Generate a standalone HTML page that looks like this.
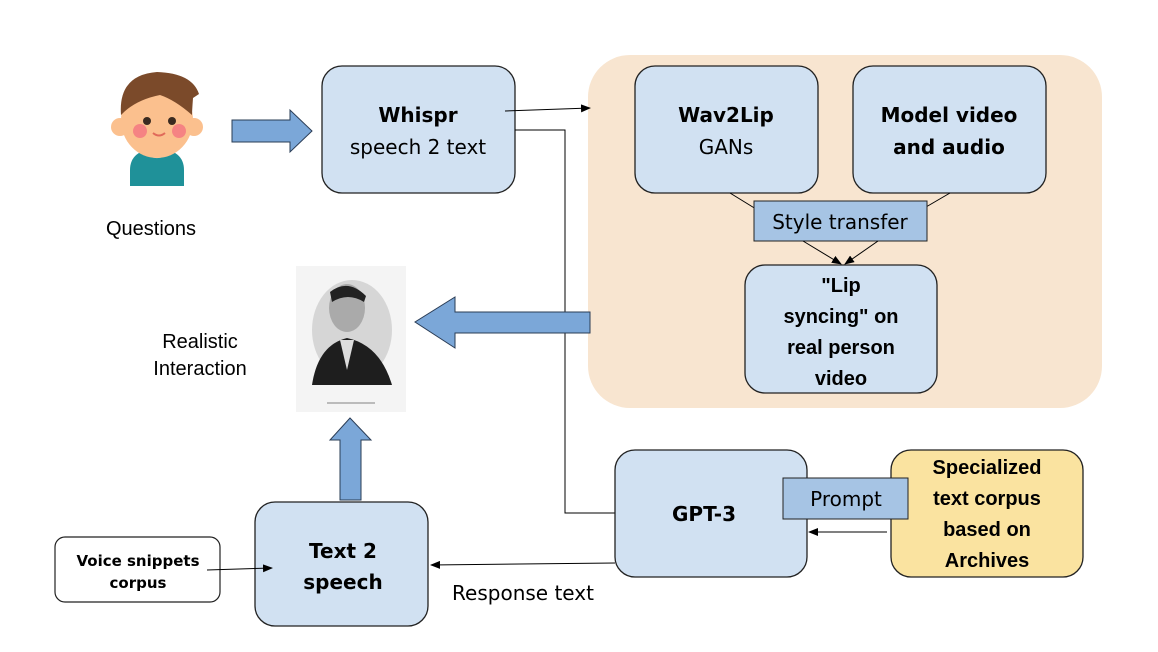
<!DOCTYPE html>
<html><head><meta charset="utf-8"><style>
html,body{margin:0;padding:0;background:#fff;}
svg{display:block;}
text{font-family:"Liberation Sans",sans-serif;}
.b{font-family:"DejaVu Sans","Liberation Sans",sans-serif;}
</style></head><body>
<svg width="1158" height="652" viewBox="0 0 1158 652" xmlns="http://www.w3.org/2000/svg">
<defs><marker id="ah" markerWidth="10" markerHeight="8" refX="9" refY="4" orient="auto" markerUnits="userSpaceOnUse"><path d="M0,0 L10,4 L0,8 z" fill="#000"/></marker></defs>
<rect width="1158" height="652" fill="#fff"/>
<rect x="588" y="55" width="514" height="353" rx="42" fill="#f8e5d0"/>
<g>
<path d="M130,170 Q130,150 157,148 Q184,150 184,170 L184,186 L130,186 Z" fill="#1f9199"/>
<path d="M143,150 Q157,162 171,150" fill="none" stroke="#fff" stroke-width="4"/>
<circle cx="120" cy="127" r="9" fill="#fbc08e"/><circle cx="194" cy="127" r="9" fill="#fbc08e"/>
<ellipse cx="157" cy="120" rx="36" ry="38" fill="#fbc08e"/>
<path d="M121,115 Q118,75 157,72 Q192,73 199,94 L193,98 Q192,112 192,115 Q175,100 160,95 Q135,100 121,115 Z" fill="#7b4a2a"/>
<circle cx="147" cy="121" r="4" fill="#3a2a20"/><circle cx="172" cy="121" r="4" fill="#3a2a20"/>
<circle cx="140" cy="131" r="7" fill="#f58383"/><circle cx="179" cy="131" r="7" fill="#f58383"/>
<path d="M153,133 Q159,138 165,133" fill="none" stroke="#e06a5a" stroke-width="2"/>
</g>
<text x="151" y="235" font-size="20" text-anchor="middle">Questions</text>
<path d="M232,120 L290,120 L290,110 L312,131 L290,152 L290,142 L232,142 Z" fill="#7ba7d8" stroke="#2a3c55" stroke-width="1"/>
<rect x="322" y="66" width="193" height="127" rx="20" fill="#d1e1f2" stroke="#222" stroke-width="1.3"/>
<text class="b" x="418" y="122" font-size="20" font-weight="bold" text-anchor="middle">Whispr</text>
<text class="b" x="418" y="154" font-size="20" text-anchor="middle">speech 2 text</text>
<line x1="505" y1="111" x2="590" y2="108" stroke="#000" stroke-width="1" marker-end="url(#ah)"/>
<polyline points="515,130 565,130 565,513 615,513" fill="none" stroke="#000" stroke-width="1"/>
<rect x="635" y="66" width="183" height="127" rx="20" fill="#d1e1f2" stroke="#222" stroke-width="1.3"/>
<text class="b" x="726" y="122" font-size="20" font-weight="bold" text-anchor="middle">Wav2Lip</text>
<text class="b" x="726" y="154" font-size="20" text-anchor="middle">GANs</text>
<rect x="853" y="66" width="193" height="127" rx="20" fill="#d1e1f2" stroke="#222" stroke-width="1.3"/>
<text class="b" x="949" y="122" font-size="20" font-weight="bold" text-anchor="middle">Model video</text>
<text class="b" x="949" y="154" font-size="20" font-weight="bold" text-anchor="middle">and audio</text>
<line x1="730" y1="193" x2="756" y2="209" stroke="#000"/>
<line x1="950" y1="193" x2="926" y2="207" stroke="#000"/>
<rect x="754" y="201" width="173" height="40" fill="#a6c4e4" stroke="#222" stroke-width="1"/>
<text class="b" x="840" y="229" font-size="20" text-anchor="middle">Style transfer</text>
<line x1="803" y1="241" x2="841" y2="264" stroke="#000" marker-end="url(#ah)"/>
<line x1="878" y1="241" x2="845" y2="264" stroke="#000" marker-end="url(#ah)"/>
<rect x="745" y="265" width="192" height="128" rx="20" fill="#d1e1f2" stroke="#222" stroke-width="1.3"/>
<g class="b" font-size="20" font-weight="bold" text-anchor="middle">
<text x="841" y="292">"Lip</text><text x="841" y="323">syncing" on</text><text x="841" y="354">real person</text><text x="841" y="385">video</text></g>
<path d="M590,312 L455,312 L455,297 L415,322 L455,348 L455,333 L590,333 Z" fill="#7ba7d8" stroke="#2a3c55" stroke-width="1"/>
<rect x="296" y="266" width="110" height="146" fill="#f4f4f4"/>
<ellipse cx="352" cy="330" rx="40" ry="50" fill="#d6d6d6"/>
<ellipse cx="347" cy="308" rx="18" ry="24" fill="#aaa"/>
<path d="M330,292 Q348,278 366,296 L364,302 Q348,292 332,302 Z" fill="#222"/>
<path d="M312,385 Q318,345 347,338 Q380,345 392,385 Z" fill="#1e1e1e"/>
<path d="M340,340 L347,370 L354,340 Z" fill="#ddd"/>
<rect x="327" y="402" width="48" height="2" fill="#bbb"/>
<text x="200" y="348" font-size="20" text-anchor="middle">Realistic</text>
<text x="200" y="375" font-size="20" text-anchor="middle">Interaction</text>
<path d="M340,500 L340,440 L330,440 L350,418 L371,440 L361,440 L361,500 Z" fill="#7ba7d8" stroke="#2a3c55" stroke-width="1"/>
<rect x="255" y="502" width="173" height="124" rx="20" fill="#d1e1f2" stroke="#222" stroke-width="1.3"/>
<text class="b" x="343" y="558" font-size="20" font-weight="bold" text-anchor="middle">Text 2</text>
<text class="b" x="343" y="589" font-size="20" font-weight="bold" text-anchor="middle">speech</text>
<rect x="55" y="537" width="165" height="65" rx="10" fill="#fff" stroke="#222" stroke-width="1.2"/>
<text class="b" x="138" y="566" font-size="15" font-weight="bold" text-anchor="middle">Voice snippets</text>
<text class="b" x="138" y="588" font-size="15" font-weight="bold" text-anchor="middle">corpus</text>
<line x1="207" y1="570" x2="272" y2="568" stroke="#000" marker-end="url(#ah)"/>
<rect x="615" y="450" width="192" height="127" rx="20" fill="#d1e1f2" stroke="#222" stroke-width="1.3"/>
<text class="b" x="704" y="521" font-size="20" font-weight="bold" text-anchor="middle">GPT-3</text>
<rect x="891" y="450" width="192" height="127" rx="20" fill="#fae3a0" stroke="#222" stroke-width="1.3"/>
<g class="b" font-size="20" font-weight="bold" text-anchor="middle">
<text x="987" y="474">Specialized</text><text x="987" y="505">text corpus</text><text x="987" y="536">based on</text><text x="987" y="567">Archives</text></g>
<rect x="783" y="478" width="125" height="41" fill="#a6c4e4" stroke="#222" stroke-width="1"/>
<text class="b" x="846" y="506" font-size="20" text-anchor="middle">Prompt</text>
<line x1="887" y1="532" x2="809" y2="532" stroke="#000" marker-end="url(#ah)"/>
<line x1="615" y1="563" x2="431" y2="565" stroke="#000" marker-end="url(#ah)"/>
<text class="b" x="523" y="600" font-size="20" text-anchor="middle">Response text</text>
</svg>
</body></html>
